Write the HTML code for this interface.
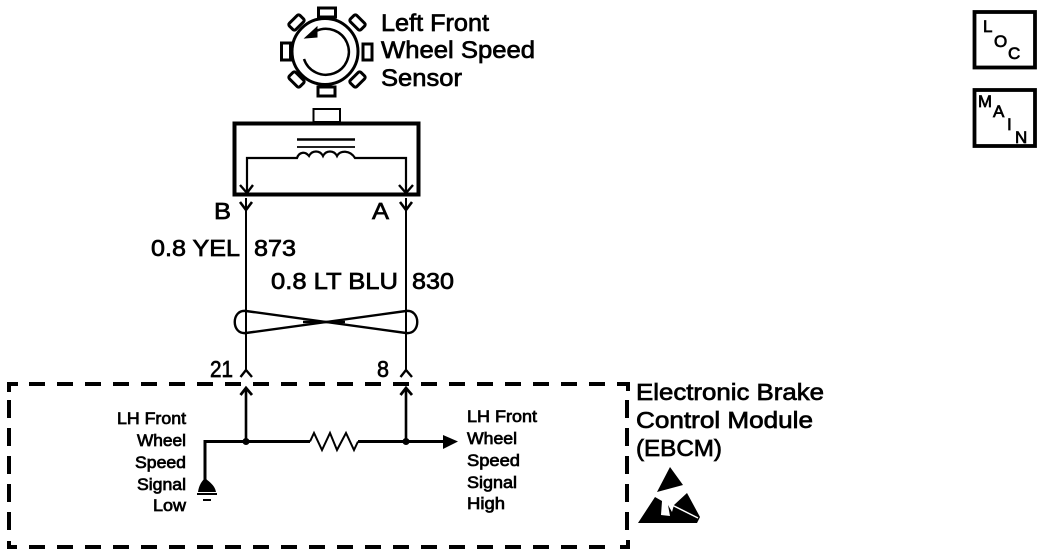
<!DOCTYPE html>
<html><head><meta charset="utf-8"><style>
html,body{margin:0;padding:0;background:#fff}
svg{display:block}
text{font-family:"Liberation Sans",sans-serif;fill:#000;stroke:#000;stroke-width:.7}
</style></head><body>
<svg width="1056" height="556" viewBox="0 0 1056 556" xmlns="http://www.w3.org/2000/svg">
<g fill="none" stroke="#000">
<!-- sensor tabs -->
<rect x="318.500" y="8" width="17" height="9" stroke-width="3"/>
<rect x="318" y="87" width="17" height="9" stroke-width="3"/>
<rect x="281.500" y="43" width="9" height="17" stroke-width="3"/>
<rect x="363" y="44" width="9" height="16" stroke-width="3"/>
<rect x="289" y="18" width="15" height="9" rx="2" stroke-width="3" transform="rotate(-45 296.500 22.500)"/>
<rect x="350" y="18" width="15" height="9" rx="2" stroke-width="3" transform="rotate(45 357.500 22.500)"/>
<rect x="289" y="75" width="15" height="9" rx="2" stroke-width="3" transform="rotate(45 296.500 79.500)"/>
<rect x="350" y="75" width="15" height="9" rx="2" stroke-width="3" transform="rotate(-45 357.500 79.500)"/>
<circle cx="325" cy="51.500" r="33" stroke-width="3" fill="#fff"/>
<path d="M304 59 A23 23 0 1 0 316 31" stroke-width="2.500"/>
<path d="M305 38L317 27V37Z" fill="#000" stroke-width="1"/>
<!-- connector -->
<rect x="313.500" y="109" width="26.500" height="13" stroke-width="2"/>
<rect x="234.500" y="123.500" width="184" height="71" stroke-width="4"/>
<path d="M297 139.500H355" stroke-width="2.500"/>
<path d="M297 147H355" stroke-width="1.800"/>
<path d="M247 195V158H297C299 152 305 151 309 156C312 150 320 150 323 156C326 150 334 150 337 156C340 150 350 150 355 158H406V195" stroke-width="2.200"/>
<path d="M240 185L247 193L253 185M399 185L406 193L413 185" stroke-width="2.400"/>
<!-- wires -->
<path d="M246 198V372M406 198V372" stroke-width="2"/>
<path d="M240 202L246 210L252 202M400 202L406 210L412 202" stroke-width="2.600"/>
<path d="M246 311C231 309 231 335 246 333L406 311C421 309 421 335 406 333Z" stroke-width="2.400"/>
<path d="M303 322H345" stroke-width="2.500"/>
<path d="M240.500 377L246 370L252 377M400.500 377L406 370L412 377" stroke-width="2.400"/>
<path d="M246 442V390M406 442V390" stroke-width="2.600"/>
<path d="M240.500 395L246 388L252 395M400.500 395L406 388L412 395" stroke-width="2.800"/>
<path d="M310 441.500L314 433L322 450L330 433L337 450L346 433L354 450L358 441.500" stroke-width="2"/>
<path d="M205 480V441.500H310M358 441.500H446" stroke-width="3"/>
<!-- dashed box -->
<g stroke-width="4">
<path d="M18 384H9V392"/>
<path d="M29 384H628" stroke-dasharray="16 12"/>
<path d="M620 384H628V391"/>
<path d="M9 400V530" stroke-dasharray="18 10"/>
<path d="M9 541V547H17"/>
<path d="M29 547H612" stroke-dasharray="16 12"/>
<path d="M620 547H628V540"/>
<path d="M627 400V530" stroke-dasharray="18 10"/>
</g>
<path d="M197 494H217M203 500H211" stroke-width="2"/>
</g>
<g fill="#000">
<circle cx="246" cy="441.500" r="3.500"/><circle cx="406" cy="441.500" r="3.500"/>
<path d="M443 435L458 441.500L443 449Z"/>
<path d="M198 492C199 485 202 481 205 478C208 481 215 485 216 492Z"/>
<path d="M670 467L657 492L683 485Z"/>
<path d="M638 523L655 497L662 501L661 515L670 516L668 505L672 512L674 505L687 493L700 517L697 523Z"/>
</g>
<path d="M672 505L698 518" stroke="#fff" stroke-width="1.500" fill="none"/>
<!-- labels -->
<g font-size="24">
<text x="381" y="31" textLength="108" lengthAdjust="spacingAndGlyphs">Left Front</text>
<text x="381" y="58" textLength="154" lengthAdjust="spacingAndGlyphs">Wheel Speed</text>
<text x="381" y="86" textLength="81" lengthAdjust="spacingAndGlyphs">Sensor</text>
</g>
<g font-size="23">
<text x="214" y="219" textLength="17" lengthAdjust="spacingAndGlyphs">B</text>
<text x="372" y="219" textLength="17" lengthAdjust="spacingAndGlyphs">A</text>
<text x="151" y="256" textLength="89" lengthAdjust="spacingAndGlyphs">0.8 YEL</text>
<text x="254" y="256" textLength="42" lengthAdjust="spacingAndGlyphs">873</text>
<text x="271" y="289" textLength="127" lengthAdjust="spacingAndGlyphs">0.8 LT BLU</text>
<text x="412" y="289" textLength="42" lengthAdjust="spacingAndGlyphs">830</text>
<text x="210" y="377" textLength="23" lengthAdjust="spacingAndGlyphs">21</text>
<text x="377" y="377" textLength="12" lengthAdjust="spacingAndGlyphs">8</text>
<text x="636" y="400" textLength="188" lengthAdjust="spacingAndGlyphs">Electronic Brake</text>
<text x="636" y="428" textLength="177" lengthAdjust="spacingAndGlyphs">Control Module</text>
<text x="636" y="456" textLength="86" lengthAdjust="spacingAndGlyphs">(EBCM)</text>
</g>
<g font-size="16.500" style="stroke-width:.5">
<text x="117" y="424" textLength="69" lengthAdjust="spacingAndGlyphs">LH Front</text>
<text x="137" y="446" textLength="49" lengthAdjust="spacingAndGlyphs">Wheel</text>
<text x="135" y="468" textLength="51" lengthAdjust="spacingAndGlyphs">Speed</text>
<text x="137" y="490" textLength="49" lengthAdjust="spacingAndGlyphs">Signal</text>
<text x="153" y="511" textLength="33" lengthAdjust="spacingAndGlyphs">Low</text>
<text x="467" y="422" textLength="70" lengthAdjust="spacingAndGlyphs">LH Front</text>
<text x="467" y="444" textLength="50" lengthAdjust="spacingAndGlyphs">Wheel</text>
<text x="467" y="466" textLength="53" lengthAdjust="spacingAndGlyphs">Speed</text>
<text x="467" y="488" textLength="50" lengthAdjust="spacingAndGlyphs">Signal</text>
<text x="467" y="509" textLength="38" lengthAdjust="spacingAndGlyphs">High</text>
</g>
<!-- LOC / MAIN -->
<g fill="none" stroke="#000" stroke-width="3.800">
<rect x="974.500" y="12" width="60.500" height="55.500"/>
<rect x="974.500" y="90" width="60.500" height="56"/>
</g>
<g font-size="17" style="stroke-width:.5">
<text x="983" y="32">L</text>
<text x="994" y="47">O</text>
<text x="1008" y="59">C</text>
<text x="978" y="107" textLength="14" lengthAdjust="spacingAndGlyphs">M</text>
<text x="993" y="117">A</text>
<text x="1007" y="130">I</text>
<text x="1015" y="143">N</text>
</g>
</svg>
</body></html>
